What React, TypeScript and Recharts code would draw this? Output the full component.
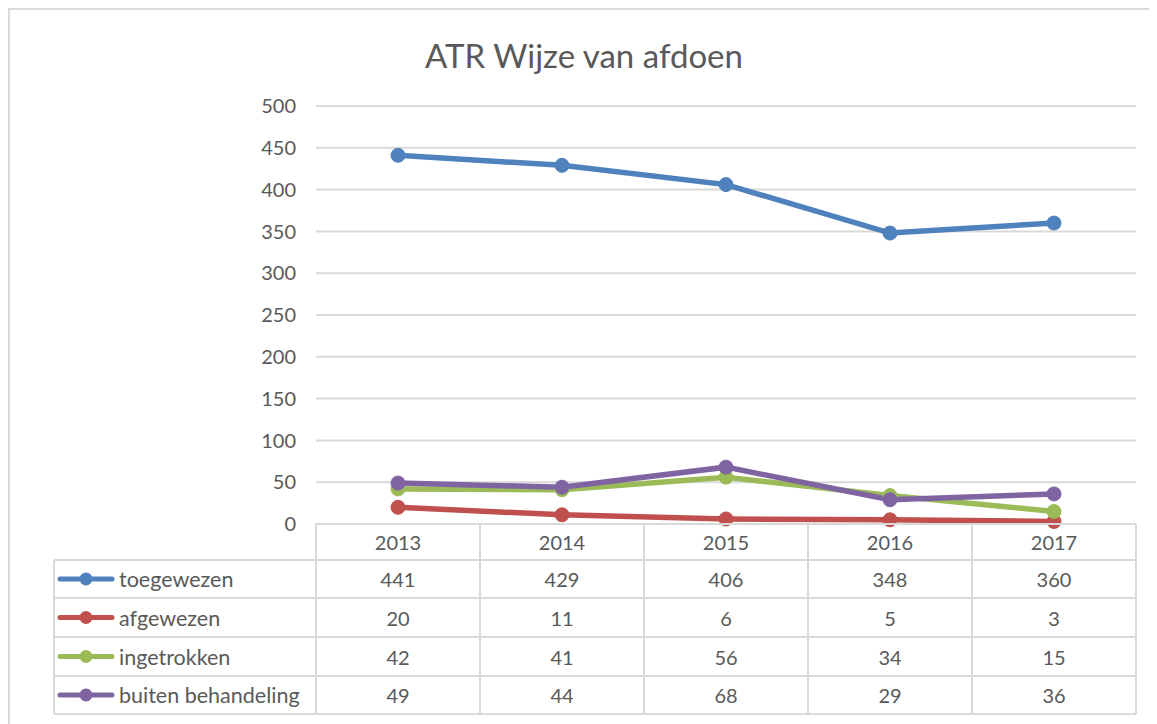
import { LineChart, Line, XAxis, YAxis, CartesianGrid } from "recharts";

const years = ["2013", "2014", "2015", "2016", "2017"];
const toegewezen = [441, 429, 406, 348, 360];
const afgewezen = [20, 11, 6, 5, 3];
const ingetrokken = [42, 41, 56, 34, 15];
const buitenBehandeling = [49, 44, 68, 29, 36];
const yTicks = [0, 50, 100, 150, 200, 250, 300, 350, 400, 450, 500];

const SERIES = [
  { key: "toegewezen", label: "toegewezen", values: toegewezen, color: "#4F81BD" },
  { key: "afgewezen", label: "afgewezen", values: afgewezen, color: "#C0504D" },
  { key: "ingetrokken", label: "ingetrokken", values: ingetrokken, color: "#9BBB59" },
  { key: "buiten", label: "buiten behandeling", values: buitenBehandeling, color: "#8064A2" },
];

const data = years.map((year, i) => {
  const row: any = { year };
  SERIES.forEach((s) => (row[s.key] = s.values[i]));
  return row;
});

const FONT = "Lato, 'Open Sans', sans-serif";
const GRID = "#D9D9D9";
const TEXT = "#595959";
const COL_W = 164;
const LEGEND_W = 262;
const HEADER_H = 36;
const ROW_BOUNDS = [36, 74, 113, 152, 190];

// tabel onder de grafiek, per kolom getekend via de x-as tick
const TableTick = ({ x, y, payload, index }: any) => {
  const left = x - COL_W / 2;
  const bottom = y + ROW_BOUNDS[ROW_BOUNDS.length - 1];
  return (
    <g>
      <line x1={left} y1={y} x2={left + COL_W} y2={y} stroke={GRID} strokeWidth={2} />
      <line x1={left} y1={y} x2={left} y2={bottom} stroke={GRID} strokeWidth={2} />
      <line x1={left + COL_W} y1={y} x2={left + COL_W} y2={bottom} stroke={GRID} strokeWidth={2} />
      {ROW_BOUNDS.map((b) => (
        <line key={b} x1={left} y1={y + b} x2={left + COL_W} y2={y + b} stroke={GRID} strokeWidth={2} />
      ))}
      <text x={x} y={y + HEADER_H / 2} textAnchor="middle" dominantBaseline="central" fontSize={20} fill={TEXT} fontFamily={FONT}>
        {payload.value}
      </text>
      {SERIES.map((s, r) => (
        <text
          key={s.key}
          x={x}
          y={y + (ROW_BOUNDS[r] + ROW_BOUNDS[r + 1]) / 2}
          textAnchor="middle"
          dominantBaseline="central"
          fontSize={20}
          fill={TEXT}
          fontFamily={FONT}
        >
          {s.values[index]}
        </text>
      ))}
      {index === 0 && (
        <g>
          <line x1={left - LEGEND_W} y1={y + HEADER_H} x2={left - LEGEND_W} y2={bottom} stroke={GRID} strokeWidth={2} />
          {ROW_BOUNDS.map((b) => (
            <line key={b} x1={left - LEGEND_W} y1={y + b} x2={left} y2={y + b} stroke={GRID} strokeWidth={2} />
          ))}
          {SERIES.map((s, r) => {
            const cy = y + (ROW_BOUNDS[r] + ROW_BOUNDS[r + 1]) / 2;
            const lx = left - LEGEND_W + 6;
            return (
              <g key={s.key}>
                <line x1={lx} y1={cy} x2={lx + 52} y2={cy} stroke={s.color} strokeWidth={5} strokeLinecap="round" />
                <circle cx={lx + 26} cy={cy} r={6.5} fill={s.color} />
                <text x={lx + 59} y={cy} dominantBaseline="central" fontSize={21.5} fill={TEXT} fontFamily={FONT}>
                  {s.label}
                </text>
              </g>
            );
          })}
        </g>
      )}
    </g>
  );
};

export default function App() {
  return (
    <div
      style={{
        position: "relative",
        width: 1160,
        height: 730,
        border: `2px solid ${GRID}`,
        background: "#fff",
        overflow: "hidden",
      }}
    >
      <style>{"body{overflow:hidden}"}</style>
      <div
        style={{
          position: "absolute",
          left: 0,
          width: 1148,
          top: 26,
          textAlign: "center",
          fontFamily: FONT,
          fontSize: 33,
          color: TEXT,
          lineHeight: "38px",
        }}
      >
        ATR Wijze van afdoen
      </div>
      <LineChart width={1160} height={706} data={data} margin={{ top: 96, right: 34, bottom: 0, left: 0 }}>
        <CartesianGrid vertical={false} stroke={GRID} strokeWidth={2} />
        <XAxis
          dataKey="year"
          height={192}
          padding={{ left: COL_W / 2, right: COL_W / 2 }}
          axisLine={false}
          tickLine={false}
          tickSize={0}
          tickMargin={0}
          interval={0}
          tick={<TableTick />}
        />
        <YAxis
          width={306}
          domain={[0, 500]}
          ticks={yTicks}
          axisLine={false}
          tickLine={false}
          tickSize={0}
          tickMargin={20}
          tick={{ fill: TEXT, fontSize: 20, fontFamily: FONT }}
        />
        {SERIES.map((s) => (
          <Line
            key={s.key}
            dataKey={s.key}
            stroke={s.color}
            strokeWidth={5.5}
            dot={{ r: 7, fill: s.color, stroke: s.color, strokeWidth: 1 }}
            isAnimationActive={false}
          />
        ))}
      </LineChart>
    </div>
  );
}
